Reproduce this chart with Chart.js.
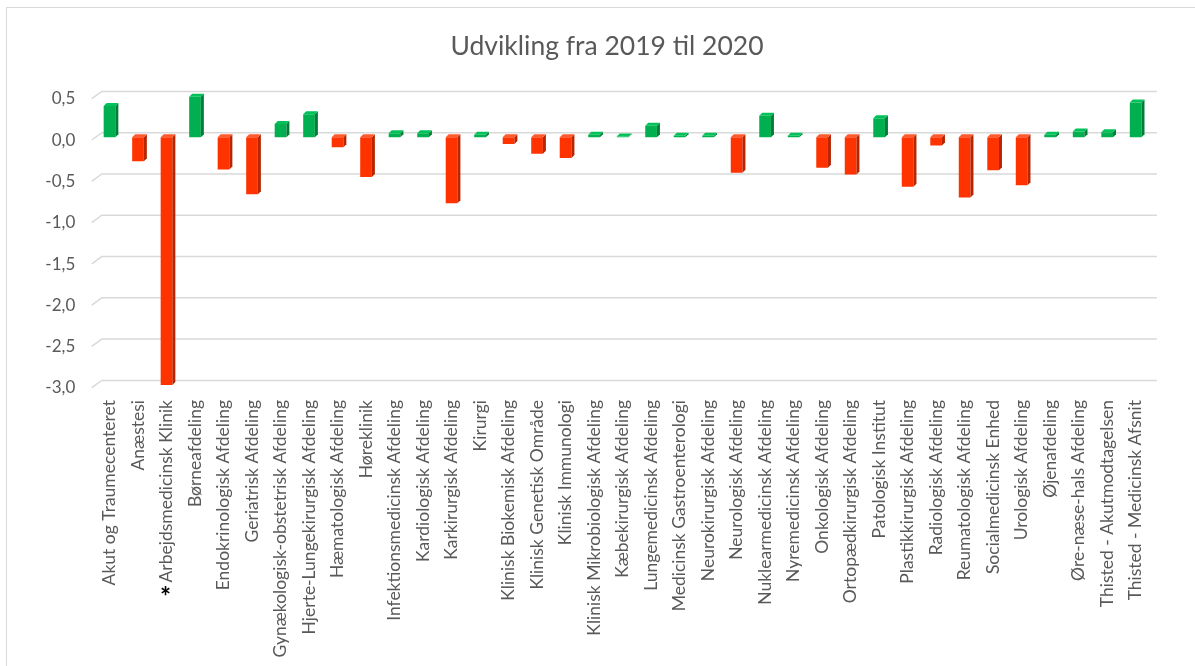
<!DOCTYPE html>
<html><head><meta charset="utf-8">
<script src="https://cdn.jsdelivr.net/npm/chart.js@4"></script>
<style>
html,body{margin:0;padding:0;background:#fff;overflow:hidden;width:1195px;height:666px}
#frame{position:absolute;left:6px;top:7px;width:1400px;height:900px;border:1px solid #d9d9d9;box-sizing:border-box}
#title{position:absolute;left:0;width:1214px;top:29px;line-height:32px;text-align:center;font-family:Lato,sans-serif;font-size:26.5px;color:#595959}
#wrap{position:absolute;left:0;top:0;width:1195px;height:666px}
</style></head><body>
<div id="frame"></div>
<div id="wrap"><canvas id="c" width="1195" height="666"></canvas></div>
<div id="title">Udvikling fra 2019 til 2020</div>
<script>
const categories = [
  'Akut og Traumecenteret','Anæstesi','Arbejdsmedicinsk Klinik','Børneafdeling',
  'Endokrinologisk Afdeling','Geriatrisk Afdeling','Gynækologisk-obstetrisk Afdeling',
  'Hjerte-Lungekirurgisk Afdeling','Hæmatologisk Afdeling','Høreklinik',
  'Infektionsmedicinsk Afdeling','Kardiologisk Afdeling','Karkirurgisk Afdeling','Kirurgi',
  'Klinisk Biokemisk Afdeling','Klinisk Genetisk Område','Klinisk Immunologi',
  'Klinisk Mikrobiologisk Afdeling','Kæbekirurgisk Afdeling','Lungemedicinsk Afdeling',
  'Medicinsk Gastroenterologi','Neurokirurgisk Afdeling','Neurologisk Afdeling',
  'Nuklearmedicinsk Afdeling','Nyremedicinsk Afdeling','Onkologisk Afdeling',
  'Ortopædkirurgisk Afdeling','Patologisk Institut','Plastikkirurgisk Afdeling',
  'Radiologisk Afdeling','Reumatologisk Afdeling','Socialmedicinsk Enhed',
  'Urologisk Afdeling','Øjenafdeling','Øre-næse-hals Afdeling',
  'Thisted - Akutmodtagelsen','Thisted - Medicinsk Afsnit'
];
const values = [
  0.38, -0.29, -3.0, 0.49,
  -0.39, -0.69, 0.16,
  0.28, -0.12, -0.48,
  0.05, 0.05, -0.80, 0.03,
  -0.08, -0.20, -0.25,
  0.03, 0.01, 0.14,
  0.02, 0.02, -0.43,
  0.26, 0.02, -0.37,
  -0.45, 0.23, -0.60,
  -0.10, -0.73, -0.40,
  -0.58, 0.03, 0.07,
  0.06, 0.42
];
const yTickValues = [0.5, 0.0, -0.5, -1.0, -1.5, -2.0, -2.5, -3.0];
const markedCategory = 'Arbejdsmedicinsk Klinik';

const GREEN = '#00b050', GREEN_SIDE = '#007e38', GREEN_TOP = '#00c258';
const RED = '#ff3300', RED_SIDE = '#b82500', RED_TOP = '#ff5a2e';
const TEXT = '#595959';
const FONT = 'Lato, sans-serif';

const deco = {
  id: 'deco',
  beforeDatasetsDraw(chart) {
    const {ctx, chartArea: a, scales: {y}} = chart;
    ctx.save();
    ctx.strokeStyle = '#d9d9d9';
    ctx.lineWidth = 1.5;
    yTickValues.forEach(v => {
      const py = y.getPixelForValue(v);
      ctx.beginPath();
      ctx.moveTo(a.left - 3.5, py + 2.7);
      ctx.lineTo(a.left + 6.5, py - 4.6);
      ctx.lineTo(a.right + 7, py - 4.6);
      ctx.stroke();
    });
    ctx.restore();
  },
  afterDatasetsDraw(chart) {
    const {ctx, scales: {x}} = chart;
    const meta = chart.getDatasetMeta(0);
    ctx.save();
    meta.data.forEach((bar, i) => {
      const pos = values[i] >= 0;
      const p = bar.getProps(['x', 'y', 'base', 'width'], true);
      const l = p.x - p.width / 2, r = p.x + p.width / 2;
      const top = Math.min(p.y, p.base), bot = Math.max(p.y, p.base);
      const d = 3;
      ctx.fillStyle = pos ? GREEN_SIDE : RED_SIDE;
      ctx.beginPath();
      ctx.moveTo(r, top); ctx.lineTo(r + d, top - d); ctx.lineTo(r + d, bot - d); ctx.lineTo(r, bot);
      ctx.closePath(); ctx.fill();
      ctx.fillStyle = pos ? GREEN_TOP : RED_TOP;
      ctx.beginPath();
      ctx.moveTo(l, top); ctx.lineTo(l + d, top - d); ctx.lineTo(r + d, top - d); ctx.lineTo(r, top);
      ctx.closePath(); ctx.fill();
    });
    // asterisk marker under the marked category label
    const idx = categories.indexOf(markedCategory);
    ctx.fillStyle = '#000';
    ctx.font = 'bold 26px ' + FONT;
    ctx.textAlign = 'center';
    ctx.textBaseline = 'alphabetic';
    ctx.fillText('*', x.getPixelForValue(idx) - 1, chart.height - 60);
    ctx.restore();
  }
};

new Chart(document.getElementById('c'), {
  type: 'bar',
  data: {
    labels: categories,
    datasets: [{
      data: values,
      backgroundColor: values.map(v => v >= 0 ? GREEN : RED),
      barPercentage: 0.41,
      categoryPercentage: 1.0,
      borderWidth: 0
    }]
  },
  options: {
    responsive: false,
    animation: false,
    devicePixelRatio: 1,
    layout: {padding: {top: 96, right: 45.1, bottom: 0, left: 0}},
    plugins: {legend: {display: false}, tooltip: {enabled: false}, title: {display: false}},
    scales: {
      x: {
        afterFit(s) { s.height = 281; },
        grid: {display: false, drawTicks: false},
        border: {display: false},
        ticks: {
          minRotation: 90, maxRotation: 90, autoSkip: false, padding: 15,
          color: TEXT, font: {family: FONT, size: 17.5}
        }
      },
      y: {
        min: -3.0, max: 0.5,
        afterFit(s) { s.width = 95.25; },
        afterBuildTicks(s) { s.ticks = yTickValues.map(v => ({value: v})); },
        grid: {display: false, drawTicks: false},
        border: {display: false},
        ticks: {
          padding: 20, labelOffset: 3, color: TEXT, font: {family: FONT, size: 17},
          callback: v => Number(v).toFixed(1).replace('.', ',')
        }
      }
    }
  },
  plugins: [deco]
});
</script>
</body></html>
